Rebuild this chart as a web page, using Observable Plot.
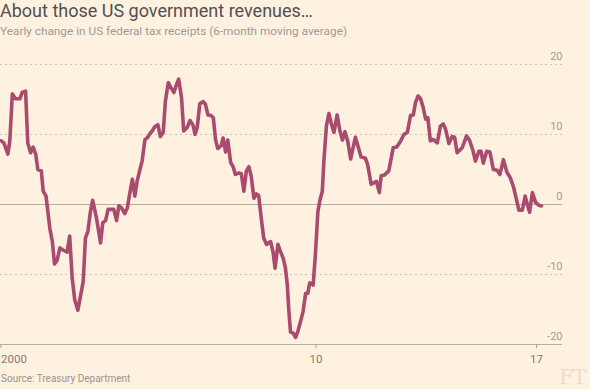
<!DOCTYPE html>
<html><head><meta charset="utf-8">
<script src="https://cdn.jsdelivr.net/npm/d3@7"></script>
<script src="https://cdn.jsdelivr.net/npm/@observablehq/plot@0.6"></script>
<style>
body{margin:0;background:#fff1e0;}
#wrap{position:relative;width:590px;height:389px;overflow:hidden;background:#fff1e0;font-family:Roboto,"Liberation Sans",sans-serif;}
#title{position:absolute;left:0;top:0px;font-size:18px;color:#505050;white-space:nowrap;line-height:22px;}
#sub{position:absolute;left:0;top:24px;font-size:11.8px;color:#a09a94;white-space:nowrap;line-height:14px;}
#chart{position:absolute;left:0;top:42px;}
#src{position:absolute;left:1px;top:373px;font-size:10px;color:#9a948e;white-space:nowrap;line-height:12px;}
#ft{position:absolute;left:559px;top:367px;font-family:"DejaVu Serif","Liberation Serif",serif;font-size:21px;color:#eddcc8;line-height:21px;letter-spacing:-1px;}
</style></head>
<body>
<div id="wrap">
<div id="title">About those US government revenues…</div>
<div id="sub">Yearly change in US federal tax receipts (6-month moving average)</div>
<div id="chart"></div>
<div id="src">Source: Treasury Department</div>
<div id="ft">FT</div>
</div>
<script>
const years = [2000.00,2000.09,2000.22,2000.28,2000.36,2000.46,2000.60,2000.67,2000.78,2000.85,2000.94,2001.02,2001.10,2001.17,2001.28,2001.34,2001.43,2001.55,2001.63,2001.70,2001.78,2001.87,2001.97,2002.10,2002.18,2002.26,2002.34,2002.44,2002.52,2002.61,2002.68,2002.76,2002.84,2002.91,2003.03,2003.16,2003.23,2003.32,2003.40,2003.58,2003.67,2003.74,2003.83,2003.93,2004.01,2004.08,2004.17,2004.25,2004.32,2004.40,2004.48,2004.57,2004.64,2004.71,2004.80,2004.88,2004.98,2005.06,2005.15,2005.22,2005.31,2005.38,2005.49,2005.56,2005.64,2005.73,2005.80,2005.91,2006.00,2006.10,2006.16,2006.23,2006.31,2006.42,2006.49,2006.57,2006.67,2006.74,2006.81,2006.88,2006.99,2007.05,2007.13,2007.20,2007.29,2007.37,2007.44,2007.55,2007.63,2007.71,2007.79,2007.87,2007.94,2008.03,2008.11,2008.18,2008.26,2008.34,2008.43,2008.56,2008.64,2008.70,2008.79,2008.87,2008.96,2009.03,2009.09,2009.14,2009.19,2009.28,2009.35,2009.42,2009.51,2009.59,2009.67,2009.74,2009.80,2009.91,2009.98,2010.06,2010.12,2010.20,2010.25,2010.33,2010.41,2010.49,2010.57,2010.67,2010.76,2010.84,2010.92,2011.01,2011.10,2011.25,2011.33,2011.43,2011.57,2011.64,2011.75,2011.84,2011.92,2012.01,2012.07,2012.17,2012.31,2012.45,2012.56,2012.68,2012.79,2012.90,2013.00,2013.09,2013.16,2013.24,2013.32,2013.40,2013.48,2013.55,2013.63,2013.72,2013.85,2013.95,2014.04,2014.11,2014.22,2014.32,2014.40,2014.48,2014.64,2014.78,2014.88,2014.99,2015.06,2015.17,2015.24,2015.31,2015.42,2015.52,2015.63,2015.75,2015.84,2015.95,2016.06,2016.17,2016.27,2016.38,2016.44,2016.55,2016.64,2016.71,2016.78,2016.87,2016.97,2017.07,2017.16];
const change = [9.1,8.8,7.2,9.1,15.8,15.1,15.1,16.0,16.2,8.8,7.4,8.2,7.2,5.0,4.8,1.9,1.2,-3.4,-5.3,-8.5,-8.0,-6.2,-6.5,-6.8,-4.5,-10.5,-13.6,-15.1,-13.2,-11.0,-4.8,-3.8,-1.0,0.6,-1.9,-5.5,-2.6,-2.3,-0.7,-0.7,-2.3,-0.2,-0.5,-1.3,-0.5,1.4,3.6,1.2,3.3,4.8,6.2,9.3,9.5,10.0,10.5,11.1,11.4,9.7,10.3,14.8,17.4,16.8,16.0,17.0,17.9,15.3,10.5,11.0,12.0,11.3,10.0,11.0,14.4,14.7,14.3,12.8,12.7,12.4,9.3,8.0,8.4,9.5,7.5,9.2,6.0,5.4,4.3,4.5,4.4,1.9,4.8,5.4,4.1,0.9,1.5,1.3,-1.9,-4.8,-5.7,-5.3,-6.9,-9.1,-5.7,-6.7,-7.7,-9.1,-11.5,-15.3,-18.2,-18.4,-19.0,-18.2,-16.7,-15.3,-12.7,-12.7,-11.2,-11.5,-7.2,-1.0,0.5,1.9,6.2,11.2,13.0,11.5,10.3,12.8,10.5,9.2,10.4,9.0,6.5,9.6,8.4,6.8,6.6,5.7,2.9,3.1,3.3,1.7,4.1,4.2,4.8,8.1,8.2,9.0,10.0,10.3,12.7,12.8,14.6,15.5,15.1,13.9,12.2,12.4,9.1,9.3,8.8,11.2,11.5,10.8,8.7,9.7,9.6,7.4,8.1,9.8,9.1,7.6,6.2,7.6,7.6,5.9,7.6,7.5,5.0,4.9,4.3,6.4,4.6,3.8,2.5,0.4,-0.8,-0.8,1.2,0.0,-1.1,1.7,0.3,-0.1,-0.2];
const gridValues = [-10, 10, 20];
const yTicks = [-20, -10, 0, 10, 20];
const xTickYears = [2000, 2010, 2017];
const firstLabel = [{year: 2000, label: "2000"}];
const otherLabels = [{year: 2010, label: "10"}, {year: 2017, label: "17"}];

const data = years.map((t, i) => ({t, v: change[i]}));

const chart = Plot.plot({
  width: 590,
  height: 327,
  marginTop: 22,
  marginBottom: 25,
  marginLeft: 0,
  marginRight: 28,
  style: {background: "transparent", fontFamily: "Roboto, 'Liberation Sans', sans-serif", overflow: "visible"},
  x: {type: "linear", domain: [2000, 2018], range: [0.5, 567.5], axis: null},
  y: {domain: [-20, 20], axis: null},
  marks: [
    Plot.ruleY(gridValues, {stroke: "#cdc3b8", strokeDasharray: "2,3", strokeWidth: 1}),
    Plot.ruleY([0], {stroke: "#b5aca3", strokeWidth: 1}),
    Plot.ruleY([-20], {stroke: "#b5aca3", strokeWidth: 1}),
    Plot.axisX({ticks: xTickYears, tickSize: 4, tickFormat: () => "", stroke: "#a8a09a"}),
    Plot.text(yTicks, {y: d => d, text: d => String(d), frameAnchor: "right", textAnchor: "end", dy: -8, fill: "#a39b94", fontSize: 11}),
    Plot.text(firstLabel, {x: "year", text: "label", frameAnchor: "bottom", textAnchor: "start", dy: 18, fill: "#7f7a75", fontSize: 11.5}),
    Plot.text(otherLabels, {x: "year", text: "label", frameAnchor: "bottom", textAnchor: "middle", dy: 18, fill: "#7f7a75", fontSize: 11.5}),
    Plot.line(data, {x: "t", y: "v", stroke: "#a94b6f", strokeWidth: 3.6, strokeLinejoin: "round", strokeLinecap: "round"})
  ]
});
document.getElementById("chart").appendChild(chart);
</script>
</body></html>
